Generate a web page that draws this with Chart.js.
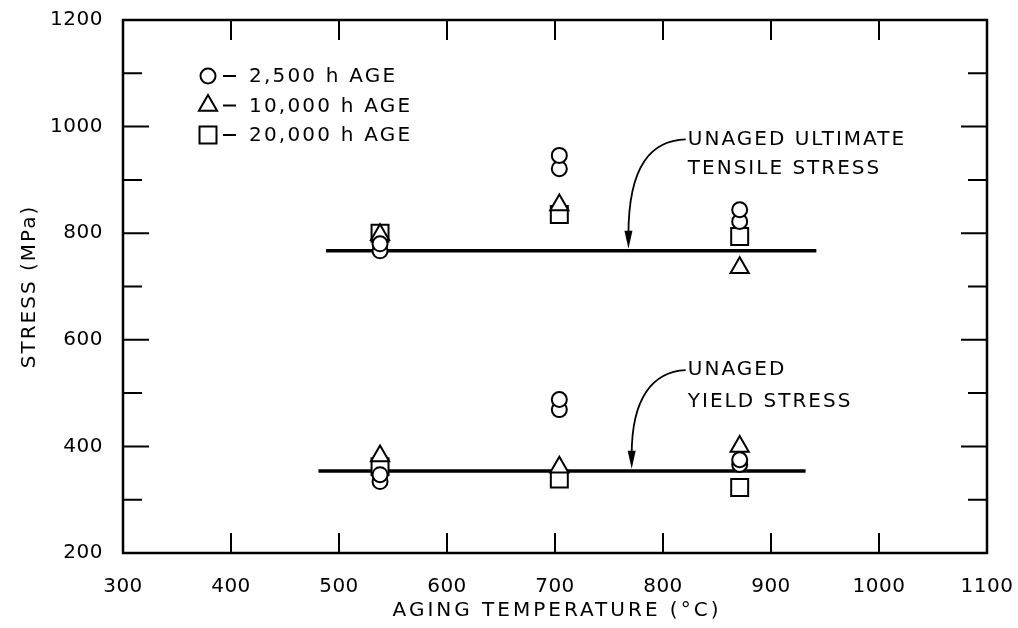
<!DOCTYPE html>
<html>
<head>
<meta charset="utf-8">
<script src="https://cdn.jsdelivr.net/npm/chart.js@4.4.1/dist/chart.umd.min.js"></script>
<style>
    html, body { margin: 0; padding: 0; background: #fff; }
    #wrap { width: 1018px; height: 628px; }
</style>
</head>
<body>
<div id="wrap"><canvas id="graph" width="1018" height="628"></canvas></div>
<script>
// aging temperatures, °C (1000, 1300, 1600 °F)
const temps = [538, 704, 871];

// 2,500 h age - circles (ultimate pair then yield pair at each temperature)
const circleX = [538, 538, 704, 704, 871, 871, 538, 538, 704, 704, 871, 871];
const circleY = [767, 780, 921, 946, 822, 844, 334, 347, 469, 488, 366, 375];

// 10,000 h age - triangles
const triangleX = [538, 704, 871, 538, 704, 871];
const triangleY = [797, 853, 735, 382, 361, 400];

// 20,000 h age - squares
const squareX = [538, 704, 871, 538, 704, 871];
const squareY = [800, 835, 794, 362, 339, 323];

// unaged reference lines
const utsLineX = [488, 942];
const utsLineY = [767, 767];
const ysLineX = [481, 932];
const ysLineY = [354, 354];

// axes
const xMin = 300, xMax = 1100, xStep = 100;
const yMin = 200, yMax = 1200, yStep = 100, yLabelStep = 200;
const xTitle = 'AGING TEMPERATURE (°C)';
const yTitle = 'STRESS (MPa)';

// legend
const legendLabels = ['2,500 h AGE', '10,000 h AGE', '20,000 h AGE'];
const legendStyles = ['circle', 'triangle', 'rect'];
const legendRadius = [7.5, 10.5, 12];

// notes with arrows (°C, MPa)
const noteLines = [['UNAGED ULTIMATE', 'TENSILE STRESS'], ['UNAGED', 'YIELD STRESS']];
const noteX = [823, 823];
const noteY = [[976, 921], [543, 484]];
const arrowPaths = [
    [[821, 976], [790, 974], [768, 930], [768, 771]],
    [[821, 543], [790, 540], [771, 490], [771, 358]]
];

function toPoints(xs, ys) {
    return xs.map((v, i) => ({x: v, y: ys[i]}));
}

const FONT = '"DejaVu Sans", sans-serif';
Chart.defaults.font.family = FONT;
Chart.defaults.color = '#000';

function drawShape(ctx, style, r, x, y) {
    ctx.beginPath();
    if (style === 'circle') {
        ctx.arc(x, y, r, 0, Math.PI * 2);
    } else if (style === 'triangle') {
        let a = 0;
        ctx.moveTo(x + Math.sin(a) * r, y - Math.cos(a) * r);
        a += Math.PI * 2 / 3;
        ctx.lineTo(x + Math.sin(a) * r, y - Math.cos(a) * r);
        a += Math.PI * 2 / 3;
        ctx.lineTo(x + Math.sin(a) * r, y - Math.cos(a) * r);
        ctx.closePath();
    } else {
        const s = Math.SQRT1_2 * r;
        ctx.rect(x - s, y - s, 2 * s, 2 * s);
    }
    ctx.fill();
    ctx.stroke();
}

const framePlugin = {
    id: 'frame',
    beforeLayout(chart) { chart.ctx.letterSpacing = '0.5px'; },
    beforeDraw(chart) { chart.ctx.letterSpacing = '0.5px'; },
    afterDraw(chart) {
        const {ctx, chartArea: a, scales: {x, y}} = chart;
        ctx.save();
        ctx.strokeStyle = '#000';
        ctx.fillStyle = '#000';

        // frame
        ctx.lineWidth = 2.5;
        ctx.strokeRect(a.left, a.top, a.right - a.left, a.bottom - a.top);

        // inward ticks on all four sides
        ctx.lineWidth = 2;
        ctx.beginPath();
        x.ticks.forEach(t => {
            const px = x.getPixelForValue(t.value);
            ctx.moveTo(px, a.bottom); ctx.lineTo(px, a.bottom - 20);
            ctx.moveTo(px, a.top); ctx.lineTo(px, a.top + 20);
        });
        y.ticks.forEach(t => {
            const py = y.getPixelForValue(t.value);
            const len = t.value % yLabelStep === 0 ? 26 : 19;
            ctx.moveTo(a.left, py); ctx.lineTo(a.left + len, py);
            ctx.moveTo(a.right, py); ctx.lineTo(a.right - len, py);
        });
        ctx.stroke();

        // axis titles
        ctx.font = '20px ' + FONT;
        ctx.letterSpacing = '3px';
        ctx.textAlign = 'center';
        ctx.textBaseline = 'middle';
        ctx.fillText(xTitle, (a.left + a.right) / 2 + 2, 611);
        ctx.save();
        ctx.translate(30, (a.top + a.bottom) / 2);
        ctx.rotate(-Math.PI / 2);
        ctx.letterSpacing = '2px';
        ctx.fillText(yTitle, 0, 0);
        ctx.restore();

        // notes
        ctx.letterSpacing = '2px';
        ctx.textAlign = 'left';
        noteLines.forEach((lines, i) => {
            lines.forEach((txt, j) => {
                ctx.fillText(txt, x.getPixelForValue(noteX[i]), y.getPixelForValue(noteY[i][j]));
            });
        });

        // curved arrows
        ctx.lineWidth = 1.8;
        arrowPaths.forEach(p => {
            const q = p.map(v => [x.getPixelForValue(v[0]), y.getPixelForValue(v[1])]);
            ctx.beginPath();
            ctx.moveTo(q[0][0], q[0][1]);
            ctx.bezierCurveTo(q[1][0], q[1][1], q[2][0], q[2][1], q[3][0], q[3][1] - 14);
            ctx.stroke();
            ctx.beginPath();
            ctx.moveTo(q[3][0], q[3][1]);
            ctx.lineTo(q[3][0] - 4, q[3][1] - 18);
            ctx.lineTo(q[3][0] + 4, q[3][1] - 18);
            ctx.closePath();
            ctx.fill();
        });

        // legend
        ctx.letterSpacing = '2.2px';
        const lx = a.left + 85;
        legendLabels.forEach((lab, i) => {
            const ly = a.top + 56 + i * 29.5;
            ctx.fillStyle = '#fff';
            ctx.lineWidth = 2;
            drawShape(ctx, legendStyles[i], legendRadius[i], lx, ly);
            ctx.fillStyle = '#000';
            ctx.beginPath();
            ctx.moveTo(lx + 15, ly);
            ctx.lineTo(lx + 28, ly);
            ctx.stroke();
            ctx.fillText(lab, lx + 41, ly + 1);
        });
        ctx.restore();
    }
};

const markerBase = {
    borderColor: '#000',
    backgroundColor: '#fff',
    borderWidth: 2,
    showLine: false
};

const lineBase = {
    borderColor: '#000',
    borderWidth: 3.5,
    pointRadius: 0,
    showLine: true,
    fill: false,
    order: 10
};

const ctx = document.getElementById('graph').getContext('2d');
const myChart = new Chart(ctx, {
    type: 'scatter',
    data: {
        datasets: [
            {...markerBase, label: legendLabels[0], data: toPoints(circleX, circleY),
                pointStyle: legendStyles[0], pointRadius: legendRadius[0], order: 1},
            {...markerBase, label: legendLabels[1], data: toPoints(triangleX, triangleY),
                pointStyle: legendStyles[1], pointRadius: legendRadius[1], order: 2},
            {...markerBase, label: legendLabels[2], data: toPoints(squareX, squareY),
                pointStyle: legendStyles[2], pointRadius: legendRadius[2], order: 3},
            {...lineBase, label: 'unaged ultimate tensile stress', data: toPoints(utsLineX, utsLineY)},
            {...lineBase, label: 'unaged yield stress', data: toPoints(ysLineX, ysLineY)}
        ]
    },
    options: {
        responsive: false,
        animation: false,
        events: [],
        layout: { padding: { left: 0, right: 31, top: 20, bottom: 0 } },
        plugins: {
            legend: { display: false },
            tooltip: { enabled: false }
        },
        scales: {
            x: {
                type: 'linear',
                min: xMin, max: xMax,
                grid: { display: false, drawTicks: false },
                border: { display: false },
                ticks: { stepSize: xStep, autoSkip: false, maxRotation: 0, padding: 22,
                    font: { size: 20 }, callback: v => String(v) },
                afterFit(scale) {
                    scale.height = 75;
                    scale.paddingLeft = 0;
                    scale.paddingRight = 0;
                }
            },
            y: {
                type: 'linear',
                min: yMin, max: yMax,
                grid: { display: false, drawTicks: false },
                border: { display: false },
                ticks: { stepSize: yStep, autoSkip: false, padding: 20, font: { size: 20 },
                    callback: v => (v % yLabelStep === 0 ? String(v) : '') },
                afterFit(scale) {
                    scale.width = 123;
                    scale.paddingTop = 0;
                    scale.paddingBottom = 0;
                }
            }
        }
    },
    plugins: [framePlugin]
});
</script>
</body>
</html>
